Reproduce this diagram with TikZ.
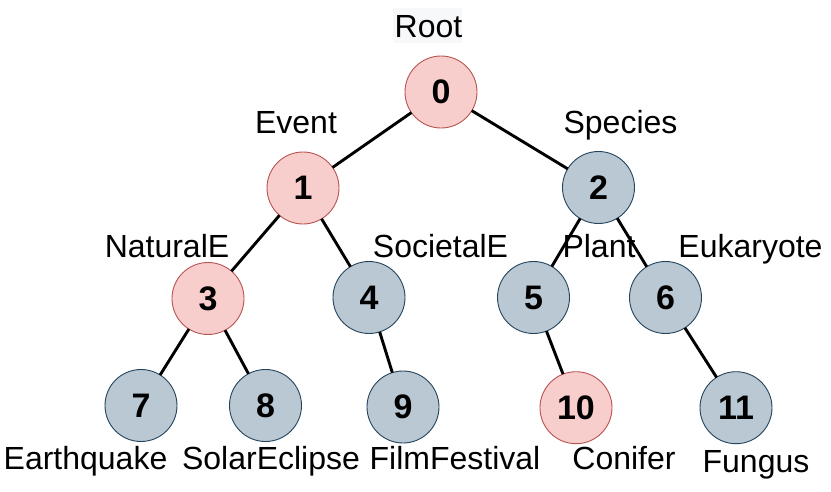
\documentclass[tikz,border=0pt]{standalone}
\usepackage{fontspec}
\setmainfont{Liberation Sans}
\begin{document}
\begin{tikzpicture}[x=1pt,y=-1pt,
  every node/.style={inner sep=0pt, outer sep=0pt},
  pinknode/.style={circle, minimum size=72pt, fill=pfill, draw=pdraw, line width=0.9pt, font=\fontsize{34}{38}\selectfont\bfseries},
  greynode/.style={circle, minimum size=72pt, fill=gfill, draw=gdraw, line width=0.9pt, font=\fontsize{34}{38}\selectfont\bfseries},
  lbl/.style={anchor=base, font=\fontsize{32}{36}\selectfont},
  edge/.style={line width=2.9pt, black}]
\definecolor{pfill}{HTML}{F8CECC}
\definecolor{pdraw}{HTML}{B85450}
\definecolor{gfill}{HTML}{BAC8D3}
\definecolor{gdraw}{HTML}{23445D}
\definecolor{rootbg}{HTML}{F7F8F9}
\useasboundingbox (0,0) rectangle (831,491);

\node[pinknode] (n0) at (441,92) {0};
\node[pinknode] (n1) at (303,188) {1};
\node[greynode] (n2) at (598.5,187.5) {2};
\node[pinknode] (n3) at (208,298.5) {3};
\node[greynode] (n4) at (369,297.5) {4};
\node[greynode] (n5) at (533.5,297.5) {5};
\node[greynode] (n6) at (665.5,297.5) {6};
\node[greynode] (n7) at (141,405.5) {7};
\node[greynode] (n8) at (265.5,405.5) {8};
\node[greynode] (n9) at (403,407) {9};
\node[pinknode] (n10) at (576,407.7) {10};
\node[greynode] (n11) at (736,407.7) {11};

\draw[edge] (n0) -- (n1);
\draw[edge] (n0) -- (n2);
\draw[edge] (n1) -- (n3);
\draw[edge] (n1) -- (n4);
\draw[edge] (n2) -- (n5);
\draw[edge] (n2) -- (n6);
\draw[edge] (n3) -- (n7);
\draw[edge] (n3) -- (n8);
\draw[edge] (n4) -- (n9);
\draw[edge] (n5) -- (n10);
\draw[edge] (n6) -- (n11);

\fill[rootbg] (393,8) rectangle (462,43);
\node[lbl] (lroot) at (428.5,37) {Root};
\node[lbl] (levent) at (296,133) {Event};
\node[lbl] (lspecies) at (620.5,133) {Species};
\node[lbl] (lnat) at (167,257) {NaturalE};
\node[lbl] (lsoc) at (440.5,257) {SocietalE};
\node[lbl] (lplant) at (599,257) {Plant};
\node[lbl] (leuk) at (750.5,257) {Eukaryote};
\node[lbl] (leq) at (85.5,469) {Earthquake};
\node[lbl] (lsol) at (271,469) {SolarEclipse};
\node[lbl] (lfilm) at (455,469) {FilmFestival};
\node[lbl] (lcon) at (624,469) {Conifer};
\node[lbl] (lfun) at (756,472) {Fungus};
\end{tikzpicture}
\end{document}
